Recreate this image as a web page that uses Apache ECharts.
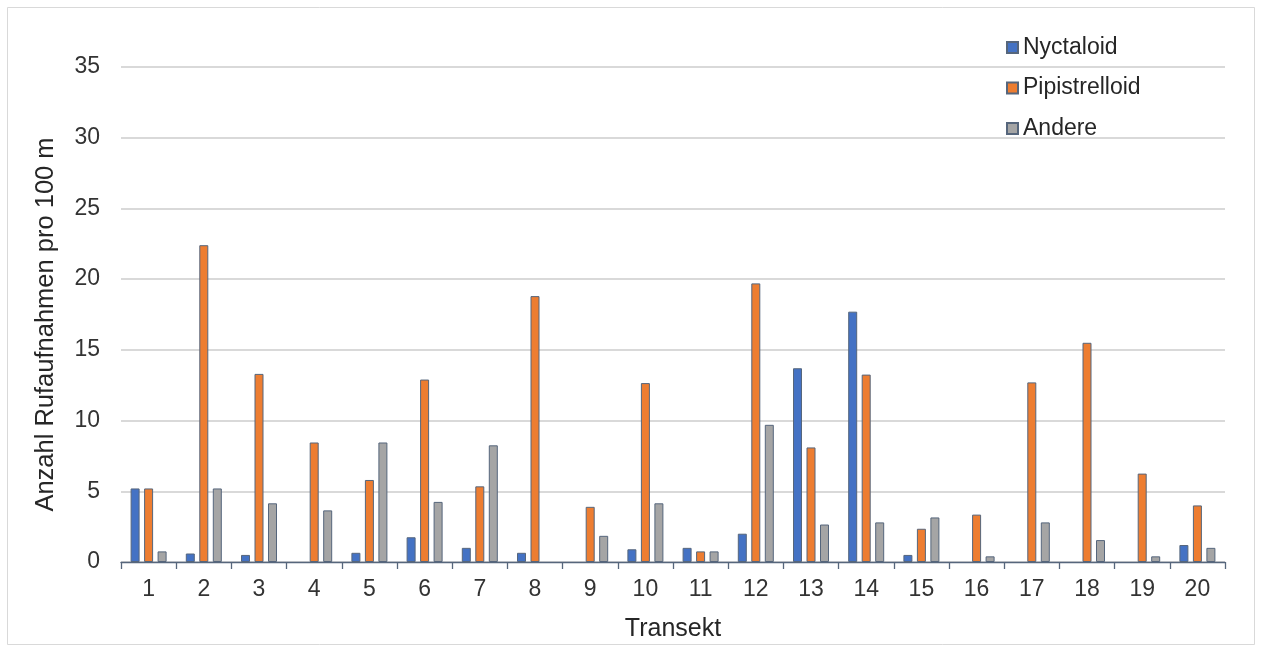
<!DOCTYPE html>
<html>
<head>
<meta charset="utf-8">
<script src="https://cdn.jsdelivr.net/npm/echarts@6/dist/echarts.min.js"></script>
<style>
  html, body { margin: 0; padding: 0; background: #ffffff; }
  #chart { width: 1263px; height: 650px; }
</style>
</head>
<body>
<div id="chart"></div>
<script>
// Transects along the x axis
const categories = ['1','2','3','4','5','6','7','8','9','10','11','12','13','14','15','16','17','18','19','20'];

// Calls per 100 m for each group
const nyctaloid     = [5.2, 0.6, 0.5, 0, 0.65, 1.75, 1.0, 0.65, 0, 0.9, 1.0, 2.0, 13.7, 17.7, 0.5, 0, 0, 0, 0, 1.2];
const pipistrelloid = [5.2, 22.4, 13.3, 8.45, 5.8, 12.9, 5.35, 18.8, 3.9, 12.65, 0.75, 19.7, 8.1, 13.25, 2.35, 3.35, 12.7, 15.5, 6.25, 4.0];
const andere        = [0.75, 5.2, 4.15, 3.65, 8.45, 4.25, 8.25, 0, 1.85, 4.15, 0.75, 9.7, 2.65, 2.8, 3.15, 0.4, 2.8, 1.55, 0.4, 1.0];

const yTicks = { min: 0, max: 35, interval: 5 };

const FONT = 'Liberation Sans, Arial, sans-serif';
const edge = '#56667c';

// empty entries are left out instead of drawn as flat outlines
const bars = arr => arr.map(v => (v === 0 ? '-' : v));

function series(name, data, color) {
  return {
    name: name,
    type: 'bar',
    data: bars(data),
    barWidth: 9,
    barGap: '50%',
    itemStyle: { color: color, borderColor: edge, borderWidth: 1 }
  };
}

const chart = echarts.init(document.getElementById('chart'), null, { renderer: 'canvas' });
chart.setOption({
  backgroundColor: '#ffffff',
  animation: false,
  textStyle: { fontFamily: FONT },
  graphic: [{
    type: 'rect',
    shape: { x: 7.5, y: 7.5, width: 1247, height: 637 },
    style: { fill: 'none', stroke: '#d9d9d9', lineWidth: 1 },
    silent: true
  }],
  legend: {
    orient: 'vertical',
    left: 1001,
    top: 31,
    itemWidth: 11,
    itemHeight: 11,
    itemGap: 17.5,
    icon: 'rect',
    textStyle: { fontSize: 23, color: '#262626', fontFamily: FONT },
    data: ['Nyctaloid', 'Pipistrelloid', 'Andere']
  },
  grid: { left: 121, right: 38, top: 67, bottom: 88, containLabel: false },
  xAxis: {
    type: 'category',
    data: categories,
    name: 'Transekt',
    nameLocation: 'middle',
    nameGap: 55,
    nameTextStyle: { fontSize: 25, color: '#262626', fontFamily: FONT },
    axisLine: { lineStyle: { color: edge, width: 1.3 } },
    axisTick: { show: true, alignWithLabel: false, length: 7, lineStyle: { color: edge, width: 1.3 } },
    axisLabel: { fontSize: 23, color: '#333333', margin: 16, fontFamily: FONT }
  },
  yAxis: {
    type: 'value',
    min: yTicks.min,
    max: yTicks.max,
    interval: yTicks.interval,
    name: 'Anzahl Rufaufnahmen pro 100 m',
    nameLocation: 'middle',
    nameGap: 62,
    nameTextStyle: { fontSize: 25.5, color: '#262626', fontFamily: FONT, padding: [0, 20, 0, 0] },
    axisLine: { show: false },
    axisTick: { show: false },
    axisLabel: { fontSize: 23, color: '#333333', margin: 21, fontFamily: FONT },
    splitLine: { lineStyle: { color: '#d9d9d9', width: 2 } }
  },
  series: [
    series('Nyctaloid', nyctaloid, '#4472c4'),
    series('Pipistrelloid', pipistrelloid, '#ed7d31'),
    series('Andere', andere, '#a5a5a5')
  ]
});
</script>
</body>
</html>
